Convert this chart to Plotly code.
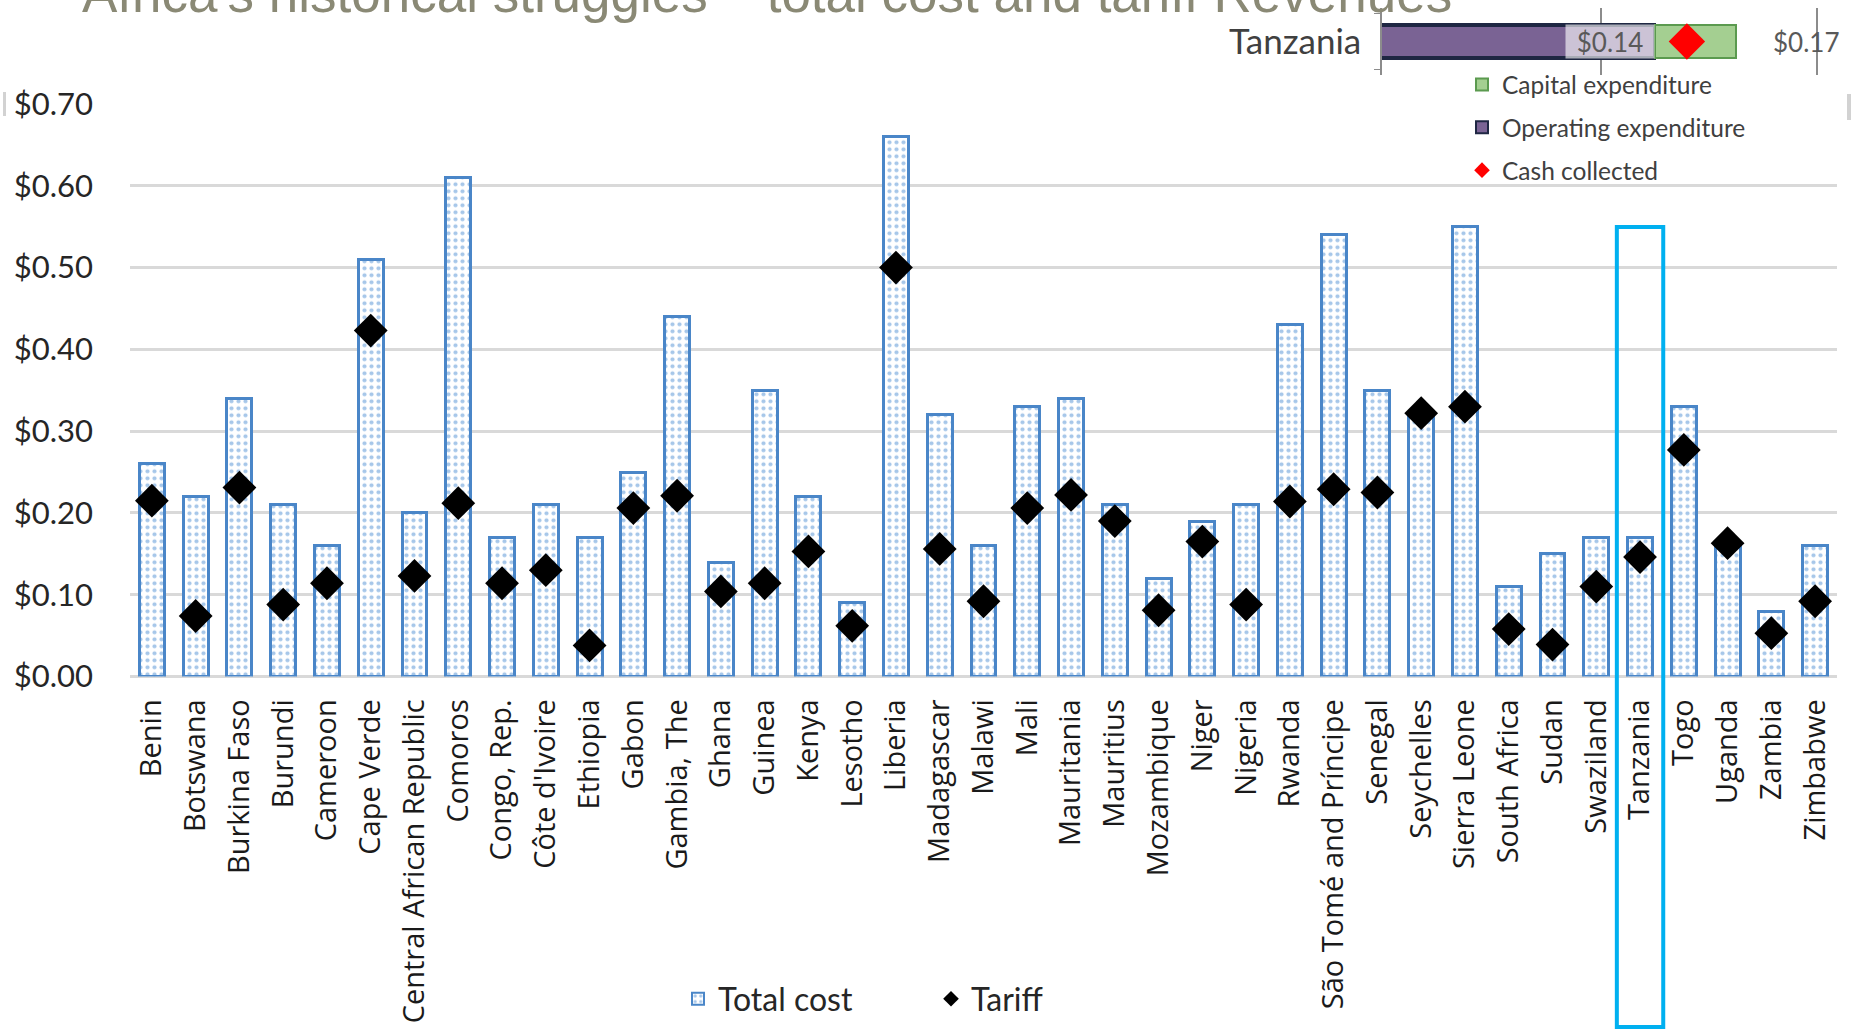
import plotly.graph_objects as go

# ---- data -------------------------------------------------------------
countries = [
    "Benin", "Botswana", "Burkina Faso", "Burundi", "Cameroon", "Cape Verde",
    "Central African Republic", "Comoros", "Congo, Rep.", "Côte d'Ivoire",
    "Ethiopia", "Gabon", "Gambia, The", "Ghana", "Guinea", "Kenya", "Lesotho",
    "Liberia", "Madagascar", "Malawi", "Mali", "Mauritania", "Mauritius",
    "Mozambique", "Niger", "Nigeria", "Rwanda", "São Tomé and Príncipe",
    "Senegal", "Seychelles", "Sierra Leone", "South Africa", "Sudan",
    "Swaziland", "Tanzania", "Togo", "Uganda", "Zambia", "Zimbabwe",
]
total_cost = [
    0.26, 0.22, 0.34, 0.21, 0.16, 0.51, 0.20, 0.61, 0.17, 0.21,
    0.17, 0.25, 0.44, 0.14, 0.35, 0.22, 0.09, 0.66, 0.32, 0.16,
    0.33, 0.34, 0.21, 0.12, 0.19, 0.21, 0.43, 0.54, 0.35, 0.32,
    0.55, 0.11, 0.15, 0.17, 0.17, 0.33, 0.16, 0.08, 0.16,
]
tariff = [
    0.215, 0.074, 0.231, 0.088, 0.114, 0.423, 0.123, 0.212, 0.114, 0.130,
    0.038, 0.206, 0.221, 0.104, 0.114, 0.153, 0.062, 0.500, 0.156, 0.092,
    0.206, 0.222, 0.190, 0.081, 0.165, 0.088, 0.214, 0.229, 0.225, 0.322,
    0.330, 0.058, 0.039, 0.110, 0.146, 0.277, 0.163, 0.053, 0.092,
]
y_tick_values = [0.00, 0.10, 0.20, 0.30, 0.40, 0.50, 0.60, 0.70]

# Tanzania cost breakdown (inset)
inset_country = ["Tanzania"]
operating_expenditure = [0.14]
capital_expenditure = [0.03]
cash_collected = [0.152]
inset_grid_values = [0.12, 0.20]

highlight = "Tanzania"
title_text = "Africa's historical struggles – total cost and tariff Revenues"

# ---- page geometry (pixels) ---------------------------------------------
W, H = 1851, 1031


def px_x(p):
    return p / W


def px_y(p):
    return 1 - p / H


fig = go.Figure()

# main chart: total cost bars + tariff diamonds
fig.add_trace(go.Bar(
    x=countries, y=total_cost, name="Total cost",
    marker=dict(
        color="white",
        line=dict(color="#4a86c8", width=3),
        pattern=dict(shape=".", fgcolor="#4f8fd3", bgcolor="white",
                     size=7, solidity=0.28),
    ),
    legend="legend", legendrank=1,
))
fig.add_trace(go.Scatter(
    x=countries, y=tariff, name="Tariff", mode="markers",
    marker=dict(symbol="diamond", size=26, color="black"),
    legend="legend", legendrank=2,
))

# inset: Tanzania stacked cost bar with cash collected
total_inset = [o + c for o, c in zip(operating_expenditure, capital_expenditure)]
fig.add_trace(go.Bar(
    y=inset_country, x=operating_expenditure, orientation="h",
    name="Operating expenditure", width=0.58,
    marker=dict(color="#7a6394", line=dict(color="#1f2743", width=3.5)),
    xaxis="x2", yaxis="y2", legend="legend2", legendrank=2,
    legendgroup="opex",
))
fig.add_trace(go.Bar(
    y=inset_country, x=capital_expenditure, orientation="h",
    name="Capital expenditure", width=0.58,
    marker=dict(color="#a4cf91", line=dict(color="#5b9a4f", width=2)),
    xaxis="x2", yaxis="y2", legend="legend2", legendrank=1,
    legendgroup="capex",
))
fig.add_trace(go.Scatter(
    y=inset_country, x=cash_collected, mode="markers",
    name="Cash collected",
    marker=dict(symbol="diamond", size=28, color="#ff0000"),
    xaxis="x2", yaxis="y2", legend="legend2", legendrank=3,
    legendgroup="cash",
))

ti = countries.index(highlight)

fig.update_layout(
    width=W, height=H, autosize=False,
    margin=dict(l=0, r=0, t=0, b=0),
    paper_bgcolor="white", plot_bgcolor="rgba(0,0,0,0)",
    barmode="stack", bargap=0.43,
    xaxis=dict(
        domain=[px_x(130), px_x(1837)], type="category",
        range=[-0.5, len(countries) - 0.5],
        tickangle=-90, ticks="", ticklabelstandoff=16,
        tickfont=dict(family="Open Sans", size=29, color="#1a1a1a"),
        showgrid=False, showline=False, automargin=False,
    ),
    yaxis=dict(
        domain=[px_y(676.5), px_y(103.8)], range=[0, 0.7003],
        tickvals=y_tick_values, tickformat="$.2f",
        tickfont=dict(family="Lato", size=31, color="#262626"),
        ticks="", ticklabelstandoff=36,
        showgrid=True, gridcolor="#d9d9d9", gridwidth=2.5,
        zeroline=True, zerolinecolor="#d9d9d9", zerolinewidth=2.5,
        showline=False, automargin=False,
    ),
    xaxis2=dict(
        domain=[px_x(1382), 1.0],
        range=[(1382 - 1276.5) / 2700, (1851 - 1276.5) / 2700],
        anchor="y2", tickvals=inset_grid_values, showticklabels=False,
        showgrid=True, gridcolor="#8c8c8c", gridwidth=1.5,
        zeroline=False, showline=False, automargin=False,
    ),
    yaxis2=dict(
        domain=[px_y(75), px_y(8)], anchor="x2", type="category",
        range=[-0.588, 0.588],
        showline=True, linecolor="#8c8c8c", linewidth=1.5,
        ticks="outside", tickson="boundaries", ticklen=6,
        tickcolor="#8c8c8c", ticklabelstandoff=12,
        tickfont=dict(family="Lato", size=35, color="#404040"),
        showgrid=False, zeroline=False, automargin=False,
    ),
    legend=dict(
        orientation="h", x=px_x(678), xanchor="left",
        y=px_y(999), yanchor="middle", traceorder="normal",
        font=dict(family="Lato", size=32, color="#262626"),
        bgcolor="rgba(0,0,0,0)", entrywidth=208, itemsizing="constant",
    ),
    legend2=dict(
        orientation="v", x=px_x(1462), xanchor="left",
        y=px_y(62), yanchor="top",
        font=dict(family="Lato", size=24.5, color="#404040"),
        bgcolor="rgba(0,0,0,0)", tracegroupgap=8, itemsizing="constant",
        traceorder="grouped",
    ),
    showlegend=True,
    hovermode=False,
)

# white panel behind the inset legend
fig.add_shape(type="rect", xref="paper", yref="paper",
              x0=px_x(1454), x1=px_x(1744), y0=px_y(172), y1=px_y(75),
              line=dict(width=0), fillcolor="white", layer="above")

# cyan frame around the highlighted country
fig.add_shape(
    type="rect", xref="x", yref="paper",
    x0=ti - 0.53, x1=ti + 0.53, y0=px_y(1027), y1=px_y(227),
    line=dict(color="#00b0f0", width=4), fillcolor="rgba(0,0,0,0)",
    layer="above",
)
# small slide edge marks
fig.add_shape(type="rect", xref="paper", yref="paper",
              x0=px_x(3), x1=px_x(6), y0=px_y(116), y1=px_y(92),
              line=dict(width=0), fillcolor="#d2d2d2")
fig.add_shape(type="rect", xref="paper", yref="paper",
              x0=px_x(1847), x1=1.0, y0=px_y(120), y1=px_y(94),
              line=dict(width=0), fillcolor="#d2d2d2")

# inset value labels
fig.add_annotation(
    xref="x2", yref="y2", x=operating_expenditure[0], y=0,
    text=f"${operating_expenditure[0]:.2f}", showarrow=False,
    xanchor="right", width=88, height=33, borderpad=0,
    bgcolor="rgba(255,255,255,0.62)",
    font=dict(family="Lato", size=26, color="#595959"),
)
fig.add_annotation(
    xref="x2", yref="y2", x=total_inset[0], y=0,
    text=f"${total_inset[0]:.2f}", showarrow=False,
    xanchor="left", xshift=35,
    font=dict(family="Lato", size=26, color="#595959"),
)

# slide title (runs off the top of the page)
fig.add_annotation(
    xref="paper", yref="paper", x=px_x(80), y=px_y(25),
    xanchor="left", yanchor="bottom", showarrow=False,
    text=title_text,
    font=dict(family="Liberation Sans", size=53, color="#8a8975"),
)

fig.write_html("out.html")
